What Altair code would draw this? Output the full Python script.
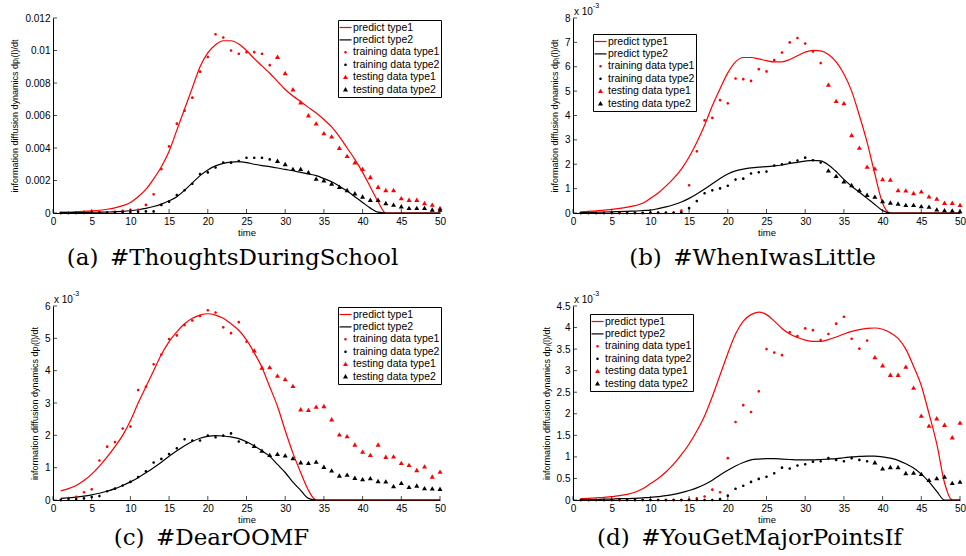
import altair as alt
import pandas as pd

# ---------------- data (values in units of 1e-3) -------------
T = list(range(1, 51))

A_PRED1 = [0.05, 0.06, 0.08, 0.10, 0.13, 0.17, 0.23, 0.32, 0.45, 0.65,
           1.0, 1.45, 2.1, 2.85, 3.8, 5.1, 6.4, 7.7, 9.0, 9.85,
           10.35, 10.6, 10.6, 10.4, 10.0, 9.5, 9.05, 8.6, 8.1, 7.6,
           7.2, 6.85, 6.5, 6.15, 5.75, 5.3, 4.7, 4.0, 3.3, 2.5,
           1.6, 0.7, 0, 0, 0, 0, 0, 0, 0, 0]
A_PRED2 = [0.02, 0.02, 0.03, 0.03, 0.04, 0.05, 0.06, 0.08, 0.10, 0.14,
           0.2, 0.28, 0.4, 0.55, 0.75, 1.0, 1.4, 1.85, 2.3, 2.65,
           2.9, 3.05, 3.13, 3.16, 3.1, 3.0, 2.92, 2.85, 2.77, 2.68,
           2.6, 2.5, 2.4, 2.3, 2.12, 1.92, 1.65, 1.35, 1.0, 0.65,
           0.3, 0.05, 0, 0, 0, 0, 0, 0, 0, 0]
A_TRAIN1 = [0, 0, 0.02, 0.08, 0.06, 0.06, 0.04, 0.08, 0.14, 0.2,
            0.2, 0.5, 1.15, 2.7, 4.1, 5.5, 6.3, 7.1, 8.7, 9.6,
            11.0, 10.8, 10.0, 9.8, 9.9, 9.9, 9.8, 9.1]
A_TRAIN2 = [0, 0, 0, 0, 0.02, 0.03, 0.03, 0.04, 0.05, 0.06,
            0.08, 0.1, 0.1, 0.5, 0.7, 1.1, 1.4, 1.8, 2.4, 2.5,
            2.8, 3.1, 3.1, 3.2, 3.4, 3.4, 3.4, 3.3]
A_TEST1 = [9.6, 8.6, 7.6, 6.8, 6.0, 5.5, 4.9, 4.7, 4.0, 3.5, 3.1,
           2.7, 2.2, 1.6, 1.4, 1.4, 0.9, 0.8, 0.8, 0.6, 0.5, 0.3]
A_TEST2 = [3.2, 3.0, 2.7, 2.7, 2.5, 2.1, 2.0, 1.8, 1.6, 1.4, 1.2,
           1.0, 0.8, 0.8, 0.6, 0.5, 0.4, 0.3, 0.3, 0.3, 0.2, 0.2]

B_PRED1 = [0.05, 0.07, 0.09, 0.12, 0.15, 0.19, 0.24, 0.3, 0.4, 0.6,
           0.82, 1.1, 1.42, 1.8, 2.3, 2.9, 3.6, 4.4, 5.1, 5.75,
           6.2, 6.38, 6.38, 6.32, 6.25, 6.2, 6.2, 6.3, 6.45, 6.6,
           6.67, 6.65, 6.5, 6.2, 5.7, 5.0, 4.0, 2.9, 1.6, 0.4,
           0, 0, 0, 0, 0, 0, 0, 0, 0, 0]
B_PRED2 = [0.02, 0.02, 0.03, 0.04, 0.05, 0.06, 0.07, 0.08, 0.1, 0.12,
           0.18, 0.25, 0.34, 0.45, 0.6, 0.78, 0.98, 1.2, 1.42, 1.6,
           1.73, 1.8, 1.85, 1.88, 1.9, 1.93, 1.97, 2.03, 2.08, 2.13,
           2.16, 2.14, 1.97, 1.7, 1.38, 1.1, 0.85, 0.6, 0.35, 0.1,
           0, 0, 0, 0, 0, 0, 0, 0, 0, 0]
B_TRAIN1 = [0, 0, 0, 0, 0, 0, 0, 0, 0, 0,
            0, 0, 0, 0.1, 1.14, 2.53, 3.8, 3.9, 4.63, 4.5,
            5.52, 5.49, 5.42, 5.9, 5.81, 6.27, 6.58, 7.0, 7.18, 6.95,
            6.63, 6.15]
B_TRAIN2 = [0, 0, 0, 0, 0, 0, 0, 0, 0, 0.02,
            0.02, 0.02, 0.02, 0.03, 0.2, 0.49, 0.81, 0.93, 1.01, 1.12,
            1.37, 1.41, 1.62, 1.67, 1.7, 1.95, 2.0, 2.07, 2.15, 2.27,
            2.16, 2.07]
B_TEST1 = [5.26, 4.59, 4.5, 3.19, 2.67, 1.89, 1.82, 1.38, 1.36,
           0.93, 0.92, 0.81, 0.88, 0.67, 0.58, 0.41, 0.41, 0.32]
B_TEST2 = [1.74, 1.51, 1.29, 1.14, 0.93, 0.74, 0.66, 0.48, 0.42,
           0.38, 0.32, 0.32, 0.27, 0.25, 0.14, 0.11, 0.1, 0.07]

C_PRED1 = [0.28, 0.35, 0.45, 0.6, 0.8, 1.05, 1.33, 1.65, 2.0, 2.45,
           3.0, 3.5, 4.0, 4.5, 4.9, 5.2, 5.45, 5.62, 5.72, 5.76,
           5.72, 5.62, 5.45, 5.25, 4.95, 4.55, 4.1, 3.5, 2.9, 2.15,
           1.45, 0.85, 0.3, 0, 0, 0, 0, 0, 0, 0,
           0, 0, 0, 0, 0, 0, 0, 0, 0, 0]
C_PRED2 = [0.05, 0.07, 0.09, 0.12, 0.16, 0.21, 0.27, 0.35, 0.45, 0.56,
           0.69, 0.84, 1.0, 1.17, 1.35, 1.52, 1.68, 1.81, 1.91, 1.97,
           1.99, 1.98, 1.95, 1.9, 1.8, 1.67, 1.52, 1.35, 1.1, 0.85,
           0.55, 0.3, 0.05, 0, 0, 0, 0, 0, 0, 0,
           0, 0, 0, 0, 0, 0, 0, 0, 0, 0]
C_TRAIN1 = [0.0, 0.06, 0.1, 0.24, 0.33, 1.22, 1.65, 1.79, 2.21, 2.27,
            3.4, 3.5, 4.2, 4.5, 4.98, 5.09, 5.41, 5.55, 5.69, 5.87,
            5.8, 5.34, 5.16, 5.5, 4.9]
C_TRAIN2 = [0, 0.04, 0.03, 0.05, 0.09, 0.12, 0.27, 0.35, 0.45, 0.56,
            0.71, 0.89, 1.16, 1.27, 1.42, 1.6, 1.88, 1.84, 1.84, 1.99,
            1.94, 1.99, 2.06, 1.81, 1.77]
C_TEST1 = [4.62, 4.09, 4.1, 3.84, 3.73, 3.52, 2.8, 2.78, 2.88, 2.9,
           2.49, 2.02, 1.97, 1.71, 1.49, 1.39, 1.71, 1.33, 1.34, 1.14,
           1.08, 0.92, 1.03, 0.72, 0.87]
C_TEST2 = [1.67, 1.52, 1.39, 1.42, 1.37, 1.29, 1.16, 1.14, 1.18, 1.02,
           0.91, 0.75, 0.78, 0.68, 0.64, 0.67, 0.58, 0.57, 0.42, 0.52,
           0.4, 0.44, 0.36, 0.35, 0.34]

D_PRED1 = [0.03, 0.04, 0.05, 0.06, 0.08, 0.1, 0.13, 0.18, 0.26, 0.38,
           0.5, 0.65, 0.83, 1.05, 1.3, 1.6, 1.95, 2.4, 2.9, 3.4,
           3.85, 4.15, 4.3, 4.36, 4.3, 4.15, 3.98, 3.85, 3.77, 3.71,
           3.68, 3.68, 3.72, 3.78, 3.85, 3.91, 3.95, 3.98, 3.99, 3.96,
           3.88, 3.75, 3.5, 3.1, 2.65, 2.0, 1.3, 0.4, 0, 0]
D_PRED2 = [0.01, 0.01, 0.01, 0.02, 0.02, 0.03, 0.03, 0.04, 0.05, 0.06,
           0.08, 0.1, 0.13, 0.17, 0.22, 0.28, 0.36, 0.46, 0.58, 0.69,
           0.79, 0.87, 0.93, 0.95, 0.96, 0.96, 0.95, 0.94, 0.93, 0.93,
           0.93, 0.94, 0.95, 0.96, 0.98, 1.0, 1.01, 1.02, 1.02, 1.0,
           0.97, 0.92, 0.84, 0.74, 0.6, 0.42, 0.2, 0, 0, 0]
D_TRAIN1 = [0, 0, 0, 0, 0, 0, 0, 0, 0, 0,
            0, 0, 0, 0, 0.01, 0.04, 0.08, 0.24, 0.18, 0.97,
            1.81, 2.2, 2.04, 2.52, 3.5, 3.42, 3.36, 3.89, 3.8, 3.98,
            3.94, 3.71, 3.85, 4.09, 4.25, 3.74, 3.51, 3.7]
D_TRAIN2 = [0, 0, 0, 0, 0, 0, 0, 0, 0, 0,
            0, 0, 0, 0, 0, 0, 0, 0, 0.02, 0.1,
            0.26, 0.33, 0.42, 0.49, 0.54, 0.62, 0.75, 0.73, 0.8, 0.83,
            0.89, 0.9, 0.97, 0.93, 0.9, 0.97, 0.93, 0.9]
D_TEST1 = [3.31, 3.12, 2.9, 2.9, 3.09, 2.6, 1.95, 1.72, 1.89, 1.74, 1.45, 1.79]
D_TEST2 = [0.87, 0.73, 0.76, 0.76, 0.62, 0.63, 0.6, 0.46, 0.5, 0.54, 0.39, 0.42]

X_TICKS = list(range(0, 51, 5))
SERIES = ["predict type1", "predict type2", "training data type1",
          "training data type2", "testing data type1", "testing data type2"]
CAPTIONS = ["(a)\u2002#ThoughtsDuringSchool", "(b)\u2002#WhenIwasLittle",
            "(c)\u2002#DearOOMF", "(d)\u2002#YouGetMajorPointsIf"]
Y_TITLE = "information diffusion dynamics dp\u1d62(l)/dt"

# ---------------- styling ----------------
RED, BLACK = "#ff0000", "#000000"
COLORS = [RED, BLACK, RED, BLACK, RED, BLACK]
LINE_SYM = "M-1,-0.1H1V0.1H-1Z"
DOT_SYM = "M-0.22,0A0.22,0.22,0,1,0,0.22,0A0.22,0.22,0,1,0,-0.22,0Z"
TRI_SYM = "M0,-0.4L0.42,0.32L-0.42,0.32Z"
SHAPES = [LINE_SYM, LINE_SYM, DOT_SYM, DOT_SYM, TRI_SYM, TRI_SYM]
SYM = 144
FONT = "Liberation Sans"
SERIF = "DejaVu Serif"
W = 387


def panel(pred1, pred2, train1, train2, test1, test2, ymax, yticks, yfmt,
          h, leg_x, leg_y, caption, cap_dx, cap_offset, exponent):
    n = len(train1)
    tr_t = T[:n]
    te_t = T[n:]
    pts = pd.DataFrame({
        "t": tr_t + tr_t + te_t + te_t,
        "v": train1 + train2 + test1 + test2,
        "s": [SERIES[2]] * n + [SERIES[3]] * n + [SERIES[4]] * len(te_t) + [SERIES[5]] * len(te_t),
    })
    pred = pd.DataFrame({"t": T + T, "v": pred1 + pred2,
                         "s": [SERIES[0]] * 50 + [SERIES[1]] * 50})
    xt = pd.DataFrame({"t": X_TICKS})
    yt = pd.DataFrame({"v": yticks})

    xscale = alt.Scale(domain=[0, 50], nice=False, zero=False)
    yscale = alt.Scale(domain=[0, ymax], nice=False)
    xaxis = alt.Axis(values=X_TICKS, ticks=False, grid=False, domainColor=BLACK,
                     domainWidth=1, labelFont=FONT, labelFontSize=10, labelColor=BLACK,
                     labelPadding=3, labelFlush=False, title="time", titleFont=FONT,
                     titleFontSize=9.5, titleFontWeight="normal", titleColor=BLACK,
                     titlePadding=1)
    yaxis = alt.Axis(values=yticks, ticks=False, grid=False, domainColor=BLACK,
                     domainWidth=1, labelFont=FONT, labelFontSize=10, labelColor=BLACK,
                     labelPadding=3, labelExpr=yfmt, labelFlush=False, title=Y_TITLE,
                     titleFont=FONT, titleFontSize=9, titleFontWeight="normal",
                     titleColor=BLACK, titlePadding=5)
    X = alt.X("t:Q", scale=xscale, axis=xaxis)
    Y = alt.Y("v:Q", scale=yscale, axis=yaxis)

    legend = alt.Legend(title=None, orient="none", legendX=leg_x, legendY=leg_y,
                        fillColor="white", strokeColor=BLACK, padding=1.5,
                        symbolSize=SYM, symbolStrokeWidth=0, labelFont=FONT,
                        labelFontSize=10.5, labelColor=BLACK, labelOffset=1.5,
                        rowPadding=0.4, labelLimit=0)

    line1 = alt.Chart(pred).transform_filter(alt.datum.s == SERIES[0]).mark_line(
        color=RED, strokeWidth=1.2, interpolate="monotone").encode(x=X, y=Y)
    line2 = alt.Chart(pred).transform_filter(alt.datum.s == SERIES[1]).mark_line(
        color=BLACK, strokeWidth=1.2, interpolate="monotone").encode(x=X, y=Y)
    points = alt.Chart(pts).mark_point(filled=True, size=SYM, opacity=1, strokeWidth=0).encode(
        x=X, y=Y,
        color=alt.Color("s:N", scale=alt.Scale(domain=SERIES, range=COLORS), legend=legend),
        shape=alt.Shape("s:N", scale=alt.Scale(domain=SERIES, range=SHAPES), legend=legend),
    )
    xticks = alt.Chart(xt).mark_tick(color=BLACK, thickness=1, size=4).encode(
        x=X, y=alt.value(h - 2))
    yticks_l = alt.Chart(yt).mark_tick(color=BLACK, thickness=1, size=4).encode(
        y=Y, x=alt.value(2))
    layers = [line1, line2, points, xticks, yticks_l]
    if exponent:
        lab = pd.DataFrame({"a": ["x 10"], "b": ["-3"]})
        layers.append(alt.Chart(lab).mark_text(align="left", baseline="alphabetic",
                                               font=FONT, fontSize=10, color=BLACK).encode(
            text="a:N", x=alt.value(1), y=alt.value(-3)))
        layers.append(alt.Chart(lab).mark_text(align="left", baseline="alphabetic",
                                               font=FONT, fontSize=7, color=BLACK).encode(
            text="b:N", x=alt.value(20), y=alt.value(-10)))
    return alt.layer(*layers).properties(
        width=W, height=h,
        title=alt.TitleParams(text=caption, orient="bottom", anchor="middle", frame="group",
                              font=SERIF, fontSize=23, fontWeight="normal", color=BLACK,
                              dx=cap_dx, offset=cap_offset),
    )


FMT_A = "format(datum.value / 1000, '.3~f')"
FMT = "format(datum.value, '~g')"

pa = panel(A_PRED1, A_PRED2, A_TRAIN1, A_TRAIN2, A_TEST1, A_TEST2, 12,
           [0, 2, 4, 6, 8, 10, 12], FMT_A, 195, 285, 2, CAPTIONS[0], -14, 10, False)
pb = panel(B_PRED1, B_PRED2, B_TRAIN1, B_TRAIN2, B_TEST1, B_TEST2, 8,
           [0, 1, 2, 3, 4, 5, 6, 7, 8], FMT, 195, 20, 16, CAPTIONS[1], -14, 10, True)
pc = panel(C_PRED1, C_PRED2, C_TRAIN1, C_TRAIN2, C_TEST1, C_TEST2, 6,
           [0, 1, 2, 3, 4, 5, 6], FMT, 194, 285, 1, CAPTIONS[2], -35, 3, True)
pd_ = panel(D_PRED1, D_PRED2, D_TRAIN1, D_TRAIN2, D_TEST1, D_TEST2, 4.5,
            [0, 0.5, 1, 1.5, 2, 2.5, 3, 3.5, 4, 4.5], FMT, 194, 17, 8, CAPTIONS[3], -17, 3, True)

chart = alt.concat(pa, pb, pc, pd_, columns=2, bounds="flush",
                   spacing={"row": 93, "column": 133}).resolve_scale(
    color="independent", shape="independent").properties(
    padding={"left": 10, "top": 2, "right": 0, "bottom": 0},
    background="white",
).configure_view(stroke=None)

chart.save("out.html", embed_options={"renderer": "svg", "actions": False})
